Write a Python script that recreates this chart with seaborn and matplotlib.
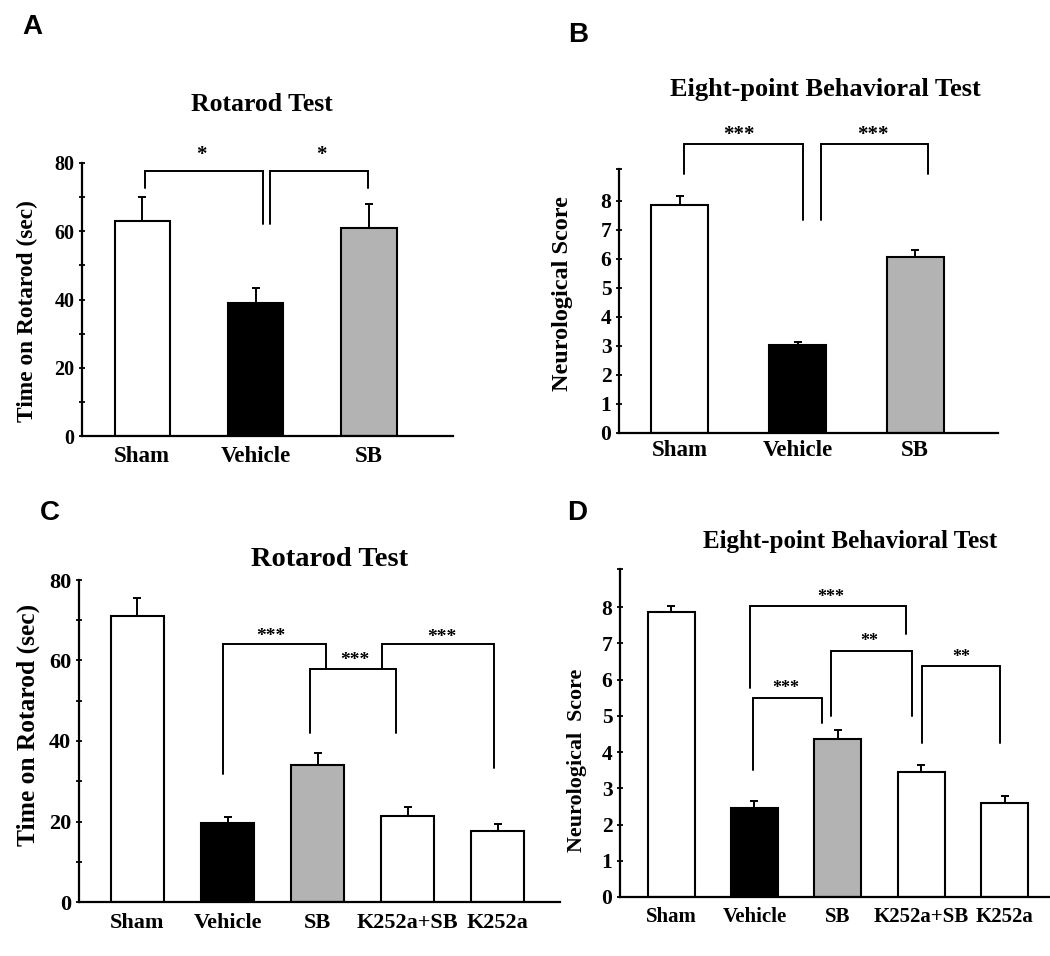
import numpy as np
import pandas as pd
import seaborn as sns
import matplotlib.pyplot as plt

sns.set_style("ticks")
plt.rcParams["font.family"] = ["Liberation Serif", "DejaVu Serif"]
plt.rcParams["font.weight"] = "bold"
plt.rcParams["axes.labelweight"] = "bold"
for k in ["text.color", "axes.labelcolor", "xtick.color", "ytick.color", "axes.edgecolor"]:
    plt.rcParams[k] = "black"

# data
groups3 = ["Sham", "Vehicle", "SB"]
rotarod_a = [63, 39, 61]
rotarod_a_err = [7, 4.5, 7]
score_b = [7.85, 3.05, 6.05]
score_b_err = [0.33, 0.07, 0.27]

groups5 = ["Sham", "Vehicle", "SB", "K252a+SB", "K252a"]
rotarod_c = [71, 19.6, 34, 21.3, 17.7]
rotarod_c_err = [4.5, 1.5, 3, 2.2, 1.8]
score_d = [7.87, 2.46, 4.35, 3.46, 2.6]
score_d_err = [0.17, 0.2, 0.26, 0.17, 0.2]

colors3 = ["white", "black", "#b3b3b3"]
colors5 = ["white", "black", "#b3b3b3", "white", "white"]

# significance brackets: x1, x2, top, left leg end, right leg end
brackets_a = [(0.03, 1.07, 77.7, 72.7, 62), (1.13, 1.99, 77.7, 62, 72.7)]
stars_a = [("*", 0.52, 84.3), ("*", 1.58, 84.3)]
brackets_b = [(0.03, 1.05, 9.97, 8.93, 7.34), (1.2, 2.11, 9.97, 7.34, 8.93)]
stars_b = [("***", 0.505, 10.5), ("***", 1.645, 10.5)]
brackets_c = [(0.95, 2.09, 64, 31.8, 58.0), (1.92, 2.87, 57.8, 41.9, 41.9),
              (2.71, 3.96, 64, 57.8, 33.2)]
stars_c = [("***", 1.48, 67.6), ("***", 2.41, 61.6), ("***", 3.38, 67.2)]
brackets_d = [(0.946, 2.82, 8.03, 5.78, 7.26), (1.92, 2.89, 6.79, 4.99, 4.99),
              (0.98, 1.81, 5.48, 3.5, 4.81), (3.01, 3.94, 6.37, 4.24, 4.24)]
stars_d = [("***", 1.91, 8.42), ("**", 2.38, 7.2), ("***", 1.37, 5.9), ("**", 3.48, 6.77)]

W, H = 1050, 956
fig = plt.figure(figsize=(W / 100, H / 100), dpi=100)


def rect(x0, x1, ytop, ybot):
    return [x0 / W, 1 - ybot / H, (x1 - x0) / W, (ybot - ytop) / H]


def panel(r, groups, vals, errs, colors, width, xlim, ylim, major, minor,
          xfs, yfs, ylabel, lfs, lcoords, xpad):
    ax = fig.add_axes(r)
    df = pd.DataFrame({"group": groups, "value": vals})
    sns.barplot(data=df, x="group", y="value", hue="group",
                palette=dict(zip(groups, colors)), legend=False, saturation=1,
                width=width, edgecolor="black", linewidth=1.5, errorbar=None, ax=ax)
    x = np.arange(len(groups))
    ax.errorbar(x, vals, yerr=[np.zeros(len(vals)), errs], fmt="none",
                ecolor="black", elinewidth=1.4, capsize=3, capthick=1.4)
    ax.set_xlim(*xlim)
    ax.set_ylim(*ylim)
    ax.set_yticks(major)
    ax.set_yticks(minor, minor=True)
    ax.tick_params(axis="y", which="both", direction="inout", length=5, width=1.3,
                   labelsize=yfs, pad=3)
    ax.tick_params(axis="x", length=0, labelsize=xfs, pad=xpad)
    for lab in ax.get_xticklabels() + ax.get_yticklabels():
        lab.set_fontweight("bold")
    ax.set_xlabel("")
    ax.set_ylabel(ylabel, fontsize=lfs, fontweight="bold")
    ax.yaxis.label.set_va("center")
    ax.yaxis.set_label_coords(*lcoords)
    sns.despine(ax=ax)
    for s in ["left", "bottom"]:
        ax.spines[s].set_linewidth(1.6)
    ax.patch.set_alpha(0)
    return ax


def add_sig(ax, brackets, stars, fs):
    for x1, x2, top, y1, y2 in brackets:
        ax.plot([x1, x1, x2, x2], [y1, top, top, y2], color="black", lw=1.4,
                clip_on=False, solid_joinstyle="miter")
    for lab, sx, sy in stars:
        ax.annotate(lab, (sx, sy), xytext=(0, -0.55 * fs), textcoords="offset points",
                    ha="center", va="baseline", fontsize=fs, fontweight="bold",
                    annotation_clip=False)


# A
axA = panel(rect(82, 453, 163, 436), groups3, rotarod_a, rotarod_a_err, colors3,
            0.485, (-0.529, 2.74), (0, 80), [0, 20, 40, 60, 80], [10, 30, 50, 70],
            16.5, 14.5, "Time on Rotarod (sec)", 16.8, (-0.148, 0.458), 7)
add_sig(axA, brackets_a, stars_a, 15)

# B
axB = panel(rect(619, 998, 169, 433), groups3, score_b, score_b_err, colors3,
            0.485, (-0.519, 2.706), (0, 9.1), list(range(9)), [9.1],
            16.5, 15.5, "Neurological Score", 17.5, (-0.150, 0.53), 5)
add_sig(axB, brackets_b, stars_b, 15)

# C
axC = panel(rect(79, 560, 580, 902), groups5, rotarod_c, rotarod_c_err, colors5,
            0.588, (-0.649, 4.69), (0, 80), [0, 20, 40, 60, 80], [10, 30, 50, 70],
            16, 16, "Time on Rotarod (sec)", 18.4, (-0.106, 0.55), 8)
add_sig(axC, brackets_c, stars_c, 14)

# D
axD = panel(rect(620, 1050, 569, 897), groups5, score_d, score_d_err, colors5,
            0.563, (-0.611, 4.54), (0, 9.05), list(range(9)), [9.05],
            15, 15.5, "Neurological  Score", 15.8, (-0.10, 0.418), 7)
add_sig(axD, brackets_d, stars_d, 13)

# titles
for txt, px, py, fs in [("Rotarod Test", 262, 111, 18.5),
                        ("Eight-point Behavioral Test", 825, 96, 19),
                        ("Rotarod Test", 330, 566, 20.5),
                        ("Eight-point Behavioral Test", 850, 548, 18)]:
    fig.text(px / W, 1 - py / H, txt, ha="center", va="baseline", fontsize=fs,
             fontweight="bold")

# panel letters
for lab, px, py in [("A", 32, 27), ("B", 578, 35), ("C", 50, 513), ("D", 577, 513)]:
    fig.text(px / W, 1 - py / H, lab, ha="center", va="center", fontsize=20,
             fontweight="bold", family=["Liberation Sans", "DejaVu Sans"])

fig.savefig("out.png", dpi=100, facecolor="white")
